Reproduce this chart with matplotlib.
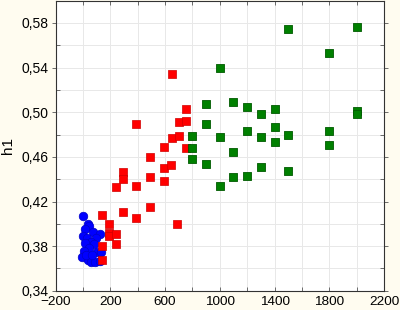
import matplotlib
matplotlib.use("Agg")
import matplotlib.pyplot as plt
from matplotlib.ticker import MultipleLocator, FuncFormatter

plt.rcParams['font.family'] = ['Liberation Sans', 'DejaVu Sans']

# group 1 (blue circles)
blue_x = [0, 40, 45, 15, 0, 75, 125, 32, 97, 60, 15, 82, 45, 10, 105, 135,
          -5, 40, 60, 90, 125, 25, 65]
blue_y = [0.407, 0.400, 0.398, 0.395, 0.389, 0.393, 0.391, 0.387, 0.387, 0.384,
          0.383, 0.382, 0.378, 0.376, 0.375, 0.375, 0.370, 0.368, 0.366, 0.366,
          0.367, 0.372, 0.372]

# group 2 (red squares)
red_x = [140, 190, 190, 190, 240, 240, 140, 140, 290, 390, 490, 690, 240, 290,
         290, 390, 490, 590, 590, 640, 490, 590, 650, 700, 755, 700, 755, 755,
         390, 650]
red_y = [0.408, 0.400, 0.392, 0.389, 0.391, 0.382, 0.380, 0.368, 0.411, 0.405,
         0.415, 0.400, 0.433, 0.446, 0.440, 0.434, 0.442, 0.438, 0.450, 0.453,
         0.460, 0.469, 0.477, 0.479, 0.468, 0.491, 0.492, 0.503, 0.489, 0.534]

# group 3 (green squares)
green_x = [800, 800, 800, 900, 900, 900, 1000, 1000, 1000, 1100, 1100, 1100,
           1200, 1200, 1200, 1300, 1300, 1300, 1400, 1400, 1400, 1500, 1500, 1500,
           1800, 1800, 1800, 2000, 2000, 2000]
green_y = [0.479, 0.468, 0.458, 0.507, 0.489, 0.454, 0.540, 0.478, 0.434, 0.509,
           0.464, 0.442, 0.505, 0.483, 0.443, 0.498, 0.478, 0.451, 0.503, 0.487,
           0.473, 0.575, 0.480, 0.447, 0.553, 0.483, 0.471, 0.576, 0.501, 0.498]

fig = plt.figure(figsize=(4, 3.1), dpi=100, facecolor='#fffcf0')
ax = fig.add_axes([0.139, 0.062, 0.821, 0.936])
ax.set_facecolor('white')

ax.scatter(blue_x, blue_y, s=38, marker='o', color='#0000ff', edgecolors='#0000c8',
           linewidths=0.5, zorder=3)
ax.scatter(red_x, red_y, s=38, marker='s', color='#ff0000', edgecolors='#d00000',
           linewidths=0.5, zorder=3)
ax.scatter(green_x, green_y, s=38, marker='s', color='#008000', edgecolors='#005a00',
           linewidths=0.6, zorder=3)

ax.set_xlim(-200, 2200)
ax.set_ylim(0.34, 0.60)
ax.set_xticks([-200, 200, 600, 1000, 1400, 1800, 2200])
ax.xaxis.set_minor_locator(MultipleLocator(200))
ax.set_yticks([0.34, 0.38, 0.42, 0.46, 0.50, 0.54, 0.58])
ax.yaxis.set_minor_locator(MultipleLocator(0.02))
ax.yaxis.set_major_formatter(FuncFormatter(lambda v, p: f"{v:.2f}".replace('.', ',')))
ax.grid(True, which='both', color='#e8e8e8', linewidth=0.7, zorder=0)
ax.set_axisbelow(True)

ax.tick_params(axis='both', which='both', labelsize=10, color='#555555',
               top=True, right=True, direction='in', length=3, width=0.6)
ax.tick_params(axis='y', which='major', left=True, direction='out', pad=2)
ax.tick_params(axis='x', which='major', labelsize=9.7, pad=3.5)
for sp in ax.spines.values():
    sp.set_color('#333333')
    sp.set_linewidth(0.8)

ax.set_ylabel('h1', fontsize=11, labelpad=5)

fig.savefig('out.png', dpi=100, facecolor=fig.get_facecolor())
